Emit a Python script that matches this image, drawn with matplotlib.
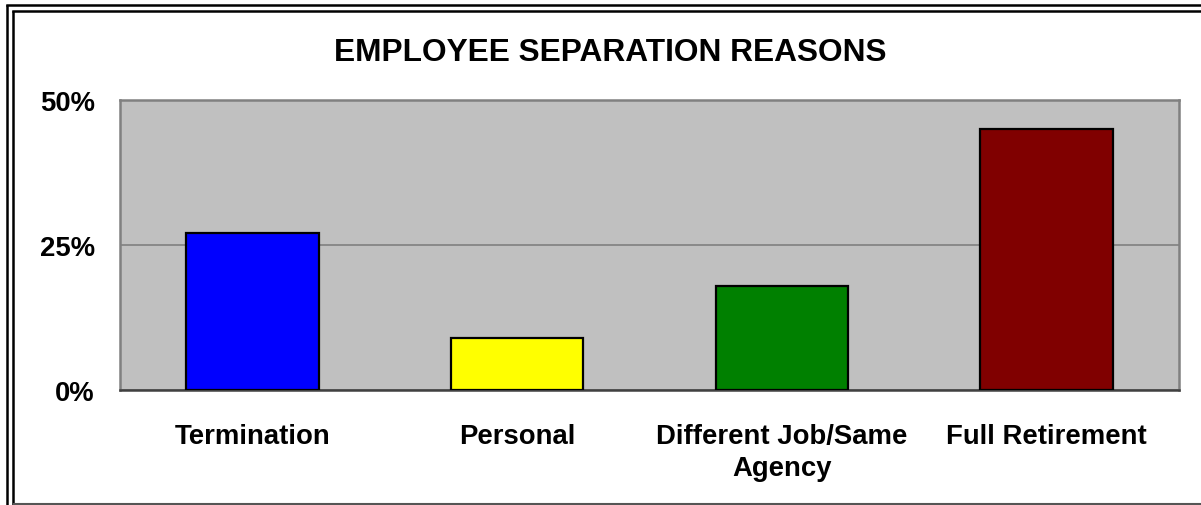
import matplotlib
matplotlib.use("Agg")
import matplotlib.pyplot as plt
from matplotlib.lines import Line2D

categories = ["Termination", "Personal", "Different Job/Same\nAgency", "Full Retirement"]
values = [27, 9, 18, 45]
colors = ["#0000FF", "#FFFF00", "#008000", "#800000"]
yticks = [0, 25, 50]
ytick_labels = ["0%", "25%", "50%"]

plt.rcParams["font.family"] = ["Liberation Sans", "DejaVu Sans"]
plt.rcParams["font.weight"] = "bold"

W, H = 1201, 506
fig = plt.figure(figsize=(W / 100, H / 100), dpi=100)
ax = fig.add_axes([120 / W, (H - 391) / H, 1059 / W, 290 / H])
ax.set_facecolor("#C0C0C0")

x = range(len(categories))
ax.bar(x, values, width=0.5, color=colors, edgecolor="black", linewidth=1.6, zorder=3)

ax.set_xlim(-0.5, 3.5)
ax.set_ylim(0, 50)
ax.set_yticks(yticks)
ax.set_yticklabels(ytick_labels, fontsize=19.8, fontweight="bold")
ax.set_xticks(list(x))
ax.set_xticklabels(categories, fontsize=19.8, fontweight="bold", linespacing=1.3)
ax.tick_params(axis="y", length=0, pad=18)
ax.tick_params(axis="x", length=0, pad=24)
ax.yaxis.grid(True, color="#808080", linewidth=1.2, zorder=1)
ax.set_axisbelow(True)

for side in ["left", "top", "right"]:
    ax.spines[side].set_color("#808080")
    ax.spines[side].set_linewidth(1.8)
ax.spines["bottom"].set_color("#404040")
ax.spines["bottom"].set_linewidth(1.8)

fig.text(610 / W, (H - 61) / H, "EMPLOYEE SEPARATION REASONS", ha="center", va="baseline",
         fontsize=22.8, fontweight="bold")

# double frame around the chart (cut off at right and bottom)
def fx(px):
    return px / W

def fy(py):
    return (H - py) / H

for px in (7, 13):
    fig.add_artist(Line2D([fx(px), fx(px)], [fy(px), 0], color="black", linewidth=1.8))
    fig.add_artist(Line2D([fx(px), 1], [fy(px - 1), fy(px - 1)], color="black", linewidth=1.8))
fig.add_artist(Line2D([fx(14), 1], [fy(505), fy(505)], color="#555555", linewidth=1.5))

fig.savefig("out.png", dpi=100, facecolor="white")
